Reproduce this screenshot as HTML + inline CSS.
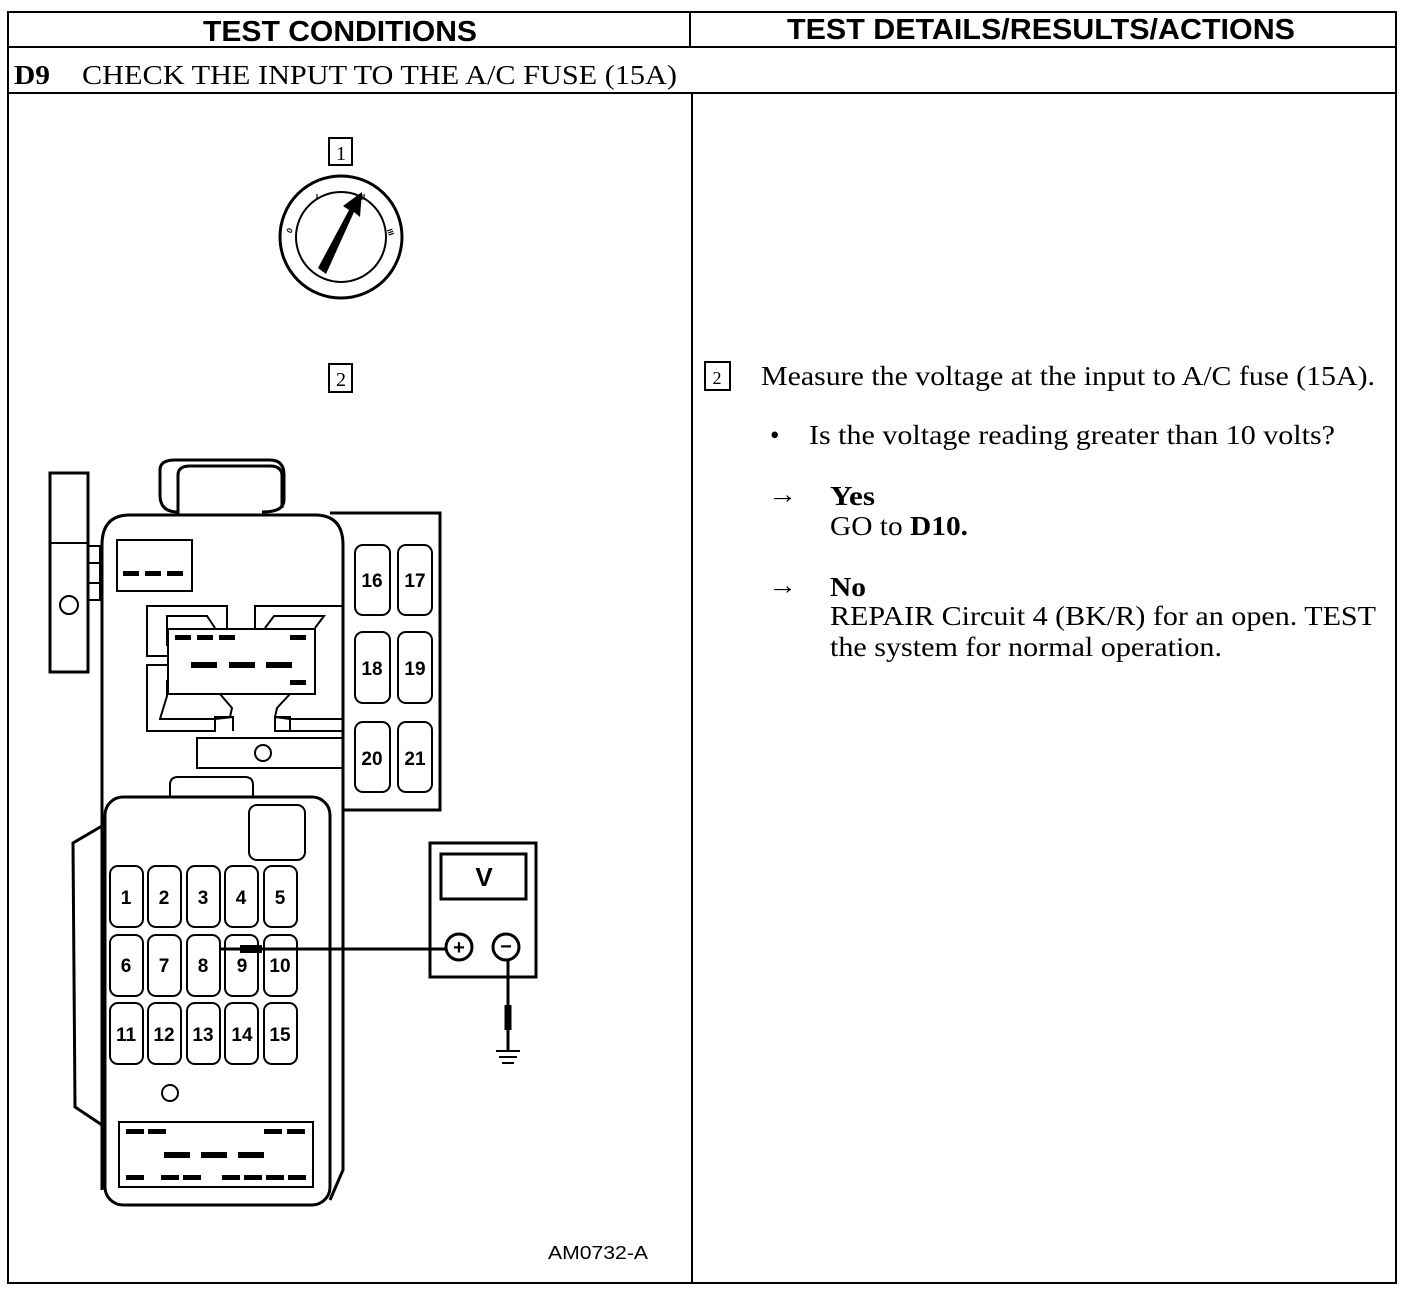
<!DOCTYPE html>
<html><head><meta charset="utf-8"><style>
html,body{margin:0;padding:0;background:#fff}
svg{display:block}
.h{font-family:"Liberation Sans",sans-serif;font-weight:bold;font-size:29px}
.s{font-family:"Liberation Serif",serif;font-size:27px}
.f{font-family:"Liberation Sans",sans-serif;font-weight:bold;font-size:19px}
</style></head><body>
<svg width="1408" height="1292" viewBox="0 0 1408 1292" xmlns="http://www.w3.org/2000/svg">
<g fill="none" stroke="#000" stroke-width="2">
<rect x="8" y="12" width="1388" height="1271"/>
<line x1="8" y1="47" x2="1396" y2="47"/>
<line x1="8" y1="93" x2="1396" y2="93"/>
<line x1="690" y1="12" x2="690" y2="47"/>
<line x1="692" y1="93" x2="692" y2="1283"/>
</g>
<text class="h" x="203" y="41" textLength="274" lengthAdjust="spacingAndGlyphs">TEST CONDITIONS</text>
<text class="h" x="787" y="39" textLength="508" lengthAdjust="spacingAndGlyphs">TEST DETAILS/RESULTS/ACTIONS</text>
<text class="s" x="14" y="84" font-weight="bold" textLength="36" lengthAdjust="spacingAndGlyphs">D9</text>
<text class="s" x="82" y="84" textLength="595" lengthAdjust="spacingAndGlyphs">CHECK THE INPUT TO THE A/C FUSE (15A)</text>

<g fill="none" stroke="#000" stroke-width="2">
<rect x="329" y="138" width="23" height="27"/>
<circle cx="341" cy="237" r="61" stroke-width="3"/>
<circle cx="341" cy="237" r="45"/>
<rect x="329" y="364" width="23" height="28"/>
<rect x="50" y="473" width="38" height="199" stroke-width="3"/>
<line x1="50" y1="543" x2="88" y2="543"/>
<circle cx="69" cy="605" r="9"/>
<rect x="88" y="546" width="12" height="17"/><rect x="88" y="563" width="12" height="20"/><rect x="88" y="583" width="12" height="17"/>
<path d="M178 514 V475 Q178 466 190 466 H270 Q282 466 282 476 V508" stroke-width="3"/>
<path d="M178 512 Q160 512 160 495 V470 Q160 460 175 460 H270 Q284 460 284 475 V500 Q284 512 262 512" stroke-width="3"/>
<path d="M102 1190 V545 Q102 515 130 515 H315 Q343 515 343 545 V1170 L330 1200" stroke-width="3"/>
<rect x="117" y="540" width="75" height="51"/>
<path d="M330 513 H440 V810 H343" stroke-width="3"/>
<rect x="355" y="545" width="35" height="70" rx="8"/><rect x="398" y="545" width="34" height="70" rx="8"/>
<rect x="355" y="632" width="35" height="71" rx="8"/><rect x="398" y="632" width="34" height="71" rx="8"/>
<rect x="355" y="722" width="35" height="70" rx="8"/><rect x="398" y="722" width="34" height="70" rx="8"/>
<path d="M227 628 V606 H147 V656 H167"/>
<path d="M167 665 H147 V731 H215 V717 H233 V731"/>
<path d="M255 628 V606 H343"/>
<path d="M343 731 H275 V717 H290 V731"/>
<path d="M167 646 V616 H207 L215 628"/>
<path d="M167 680 V696 L160 719 H215 L233 717"/>
<path d="M265 628 L274 616 H324 L315 628"/>
<path d="M275 717 L290 719 H343"/>
<rect x="168" y="629" width="147" height="65"/>
<path d="M220 694 L232 708 L230 717 M290 694 L277 708 L275 717"/>
<rect x="197" y="738" width="146" height="30"/>
<circle cx="263" cy="753" r="8"/>
<path d="M170 797 V785 Q170 777 178 777 H245 Q253 777 253 785 V797"/>
<path d="M102 826 L73 843 L75 1107 L102 1125" stroke-width="3"/>
<rect x="105" y="797" width="225" height="408" rx="18" stroke-width="3"/>
<rect x="249" y="805" width="56" height="55" rx="8"/>
<circle cx="170" cy="1093" r="8"/>
<rect x="119" y="1122" width="194" height="65"/>
<rect x="430" y="843" width="106" height="134" stroke-width="3"/>
<rect x="441" y="854" width="85" height="45" stroke-width="3"/>
<circle cx="459" cy="947" r="13" stroke-width="3"/>
<circle cx="506" cy="947" r="13" stroke-width="3"/>
<line x1="221" y1="949" x2="446" y2="949" stroke-width="3"/>
<line x1="508" y1="960" x2="508" y2="1050" stroke-width="3"/>
<line x1="496" y1="1051" x2="520" y2="1051"/><line x1="499" y1="1057" x2="517" y2="1057"/><line x1="502" y1="1063" x2="514" y2="1063"/>
<line x1="240" y1="949" x2="262" y2="949" stroke-width="8"/>
<line x1="508" y1="1005" x2="508" y2="1030" stroke-width="7"/>
<rect x="705" y="362" width="25" height="28"/>
</g>
<polygon points="318,268 326,274 354,212 360,217 362,192 343,206 349,210" fill="#000"/>
<g font-family="Liberation Sans,sans-serif" font-weight="bold" font-size="8" text-anchor="middle">
<text x="292" y="232" transform="rotate(-60 292 232)">0</text>
<text x="317" y="200">I</text><text x="363" y="200">II</text>
<text x="388" y="233" transform="rotate(70 388 233)">III</text>
</g>
<g fill="#000">
<rect x="123" y="571" width="16" height="5"/><rect x="145" y="571" width="16" height="5"/><rect x="167" y="571" width="16" height="5"/>
<rect x="175" y="635" width="16" height="5"/><rect x="197" y="635" width="16" height="5"/><rect x="219" y="635" width="16" height="5"/><rect x="290" y="635" width="16" height="5"/>
<rect x="191" y="662" width="26" height="6"/><rect x="229" y="662" width="26" height="6"/><rect x="266" y="662" width="26" height="6"/><rect x="290" y="680" width="16" height="5"/>
<rect x="126" y="1129" width="18" height="5"/><rect x="148" y="1129" width="18" height="5"/><rect x="264" y="1129" width="18" height="5"/><rect x="287" y="1129" width="18" height="5"/>
<rect x="164" y="1152" width="26" height="6"/><rect x="201" y="1152" width="26" height="6"/><rect x="238" y="1152" width="26" height="6"/>
<rect x="126" y="1175" width="18" height="5"/><rect x="161" y="1175" width="18" height="5"/><rect x="183" y="1175" width="18" height="5"/><rect x="222" y="1175" width="18" height="5"/><rect x="244" y="1175" width="18" height="5"/><rect x="266" y="1175" width="18" height="5"/><rect x="288" y="1175" width="18" height="5"/>
</g>
<g fill="none" stroke="#000" stroke-width="2">
<rect x="110" y="866" width="33" height="61" rx="8"/><rect x="148" y="866" width="33" height="61" rx="8"/><rect x="187" y="866" width="33" height="61" rx="8"/><rect x="225" y="866" width="33" height="61" rx="8"/><rect x="264" y="866" width="33" height="61" rx="8"/>
<rect x="110" y="935" width="33" height="61" rx="8"/><rect x="148" y="935" width="33" height="61" rx="8"/><rect x="187" y="935" width="33" height="61" rx="8"/><rect x="225" y="935" width="33" height="61" rx="8"/><rect x="264" y="935" width="33" height="61" rx="8"/>
<rect x="110" y="1003" width="33" height="61" rx="8"/><rect x="148" y="1003" width="33" height="61" rx="8"/><rect x="187" y="1003" width="33" height="61" rx="8"/><rect x="225" y="1003" width="33" height="61" rx="8"/><rect x="264" y="1003" width="33" height="61" rx="8"/>
</g>
<g class="f" text-anchor="middle">
<text x="372" y="587">16</text><text x="415" y="587">17</text>
<text x="372" y="675">18</text><text x="415" y="675">19</text>
<text x="372" y="765">20</text><text x="415" y="765">21</text>
<text x="126" y="904">1</text><text x="164" y="904">2</text><text x="203" y="904">3</text><text x="241" y="904">4</text><text x="280" y="904">5</text>
<text x="126" y="972">6</text><text x="164" y="972">7</text><text x="203" y="972">8</text><text x="242" y="972">9</text><text x="280" y="972">10</text>
<text x="126" y="1041">11</text><text x="164" y="1041">12</text><text x="203" y="1041">13</text><text x="242" y="1041">14</text><text x="280" y="1041">15</text>
<text x="484" y="886" font-size="26">V</text>
<text x="459" y="954" font-size="20">+</text>
<text x="506" y="953" font-size="20">−</text>
</g>
<text x="548" y="1259" font-family="Liberation Sans,sans-serif" font-size="18" textLength="100" lengthAdjust="spacingAndGlyphs">AM0732-A</text>
<text x="341" y="160" font-family="Liberation Serif,serif" font-size="20" text-anchor="middle">1</text>
<text x="341" y="386" font-family="Liberation Serif,serif" font-size="20" text-anchor="middle">2</text>
<text x="717" y="384" font-family="Liberation Serif,serif" font-size="18" text-anchor="middle">2</text>
<g class="s">
<text x="761" y="385" textLength="614" lengthAdjust="spacingAndGlyphs">Measure the voltage at the input to A/C fuse (15A).</text>
<text x="770" y="444">•</text>
<text x="809" y="444" textLength="526" lengthAdjust="spacingAndGlyphs">Is the voltage reading greater than 10 volts?</text>
<text x="768" y="503" textLength="29" lengthAdjust="spacingAndGlyphs">→</text>
<text x="830" y="505" font-weight="bold" textLength="45" lengthAdjust="spacingAndGlyphs">Yes</text>
<text x="830" y="535" textLength="138" lengthAdjust="spacingAndGlyphs">GO to <tspan font-weight="bold">D10.</tspan></text>
<text x="768" y="594" textLength="29" lengthAdjust="spacingAndGlyphs">→</text>
<text x="830" y="596" font-weight="bold" textLength="36" lengthAdjust="spacingAndGlyphs">No</text>
<text x="830" y="625" textLength="546" lengthAdjust="spacingAndGlyphs">REPAIR Circuit 4 (BK/R) for an open. TEST</text>
<text x="830" y="656" textLength="392" lengthAdjust="spacingAndGlyphs">the system for normal operation.</text>
</g>
</svg>
</body></html>
